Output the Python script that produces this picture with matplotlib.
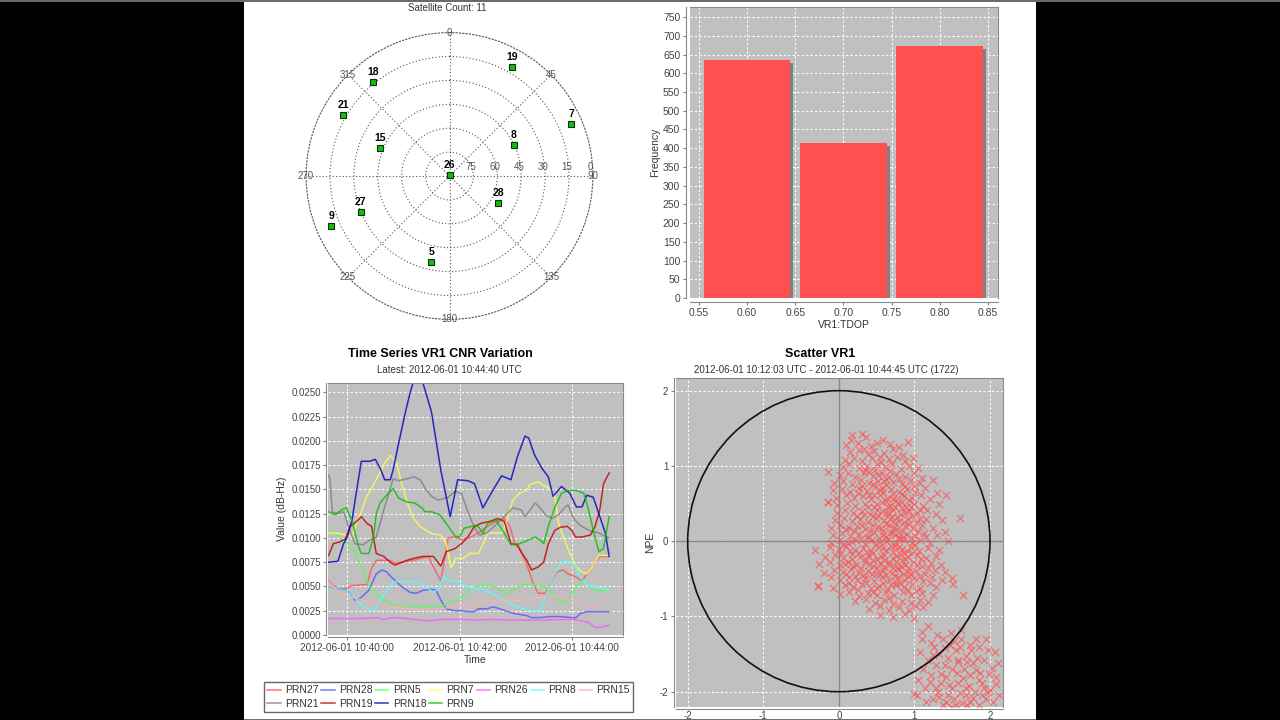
import numpy as np
import matplotlib
matplotlib.use('Agg')
import matplotlib.pyplot as plt
import matplotlib.dates as mdates
from matplotlib.patches import Rectangle, Circle
from matplotlib.lines import Line2D
from datetime import datetime, timedelta

plt.rcParams['font.family'] = ['Liberation Sans', 'DejaVu Sans']
plt.rcParams['axes.unicode_minus'] = False

# ---- sky plot data (azimuth deg, elevation deg) ----
sat_prn = ['19', '18', '21', '7', '8', '15', '26', '28', '27', '9', '5']
sat_azimuth = [30, 321, 300, 67, 64, 292, 0, 119, 248, 247, 192]
sat_elevation = [11, 14, 13, 7, 45, 43, 89.5, 55, 30, 9.5, 35]

# ---- TDOP histogram ----
tdop_bins = [0.60, 0.70, 0.80]
tdop_counts = [635, 414, 673]

# ---- CNR variation time series (seconds after 10:39:40, value) ----
prn27_t = [0, 5, 12, 19, 25, 41, 46, 51, 66, 71, 91, 107, 110, 115, 120, 128, 135, 142, 153, 161, 170, 181, 188, 194, 199, 206,
           214, 219, 224, 232, 237, 244, 251, 256, 264, 271, 278, 285, 290, 300]
prn27_v = [.0056, .0051, .0048, .0048, .0051, .0052, .0069, .0077, .0077, .0074, .0077, .0081, .0074, .0065, .0056, .0100, .0101,
           .0098, .0101, .0106, .0112, .0118, .0120, .0112, .0094, .0087, .0067, .0053, .0043, .0043, .0053, .0065, .0067, .0063,
           .0060, .0056, .0065, .0075, .0081, .0081]
prn28_t = [0, 9, 18, 23, 28, 34, 43, 51, 57, 62, 69, 78, 87, 94, 101, 110, 115, 120, 126, 135, 142, 149, 156, 160, 169, 176,
           183, 192, 199, 212, 217, 228, 235, 246, 260, 265, 269, 276, 300]
prn28_v = [.0050, .0048, .0046, .0043, .0036, .0038, .0046, .0063, .0067, .0065, .0058, .0050, .0044, .0043, .0046, .0047, .0046,
           .0036, .0027, .0025, .0025, .0024, .0024, .0027, .0027, .0029, .0027, .0024, .0022, .0020, .0018, .0018, .0019, .0019,
           .0018, .0018, .0022, .0024, .0024]
prn5_t = [0, 10, 20, 30, 38, 45, 52, 60, 70, 80, 100, 120, 128, 138, 150, 160, 175, 190, 200, 210, 220, 230, 240, 245, 252,
          258, 265, 271, 276, 285, 293, 300]
prn5_v = [.0108, .0102, .0095, .0082, .0062, .0048, .0042, .0035, .0030, .0029, .0029, .0029, .0033, .0036, .0046, .0051, .0051,
          .0043, .0048, .0052, .0052, .0050, .0043, .0036, .0032, .0039, .0050, .0055, .0052, .0046, .0046, .0046]
prn7_t = [0, 9, 19, 25, 30, 41, 51, 60, 66, 73, 78, 85, 91, 98, 107, 112, 120, 126, 131, 136, 144, 151, 160, 165, 170, 186,
          192, 197, 204, 212, 215, 224, 230, 235, 242, 246, 251, 258, 265, 271, 276, 281, 289, 300]
prn7_v = [.0105, .0105, .0103, .0101, .0115, .0143, .0160, .0177, .0185, .0177, .0156, .0134, .0120, .0112, .0106, .0104, .0103,
          .0094, .0069, .0079, .0079, .0084, .0084, .0093, .0105, .0105, .0122, .0139, .0146, .0149, .0155, .0158, .0154, .0152,
          .0143, .0115, .0101, .0084, .0070, .0065, .0063, .0069, .0082, .0082]
prn26_t = [0, 20, 35, 51, 58, 69, 83, 107, 120, 138, 156, 174, 192, 212, 230, 253, 260, 267, 278, 285, 290, 300]
prn26_v = [.0017, .0017, .0017, .0018, .0016, .0018, .0017, .00145, .0016, .0016, .00155, .0016, .00155, .00155, .00155, .0016,
           .0016, .00155, .0013, .0008, .0008, .0010]
prn8_t = [0, 12, 23, 30, 37, 48, 55, 69, 84, 96, 103, 112, 119, 122, 129, 138, 147, 156, 165, 174, 185, 194, 202, 217, 226,
          232, 237, 242, 249, 256, 264, 269, 274, 281, 290, 300]
prn8_v = [.0050, .0048, .0043, .0036, .0029, .0025, .0036, .0055, .0055, .0055, .0050, .0044, .0048, .0060, .0056, .0055, .0050,
          .0048, .0047, .0043, .0038, .0032, .0029, .0025, .0025, .0039, .0053, .0063, .0075, .0077, .0072, .0060, .0053, .0051,
          .0048, .0046]
prn15_t = [0, 10, 20, 40, 60, 80, 100, 120, 140, 160, 180, 200, 220, 240, 260, 280, 290, 300]
prn15_v = [.0055, .0045, .0040, .0035, .0030, .0028, .0026, .0027, .0030, .0033, .0036, .0035, .0038, .0040, .0037, .0030, .0032,
           .0040]
prn21_t = [0, 1.5, 4, 9, 16, 22, 28, 37, 44, 51, 60, 69, 75, 84, 91, 98, 104, 110, 117, 128, 135, 142, 147, 154, 161, 169,
           177, 188, 197, 206, 210, 214, 221, 226, 232, 239, 246, 253, 256, 262, 269, 278, 289, 300]
prn21_v = [.0165, .0160, .0127, .0125, .0127, .0110, .0094, .0093, .0098, .0101, .0132, .0161, .0159, .0161, .0163, .0160, .0150,
           .0143, .0139, .0142, .0148, .0146, .0132, .0115, .0103, .0105, .0112, .0122, .0131, .0129, .0122, .0127, .0136, .0131,
           .0124, .0120, .0124, .0132, .0134, .0120, .0113, .0108, .0105, .0100]
prn19_t = [0, 5, 12, 18, 23, 30, 35, 41, 46, 51, 59, 66, 71, 76, 84, 91, 101, 112, 120, 126, 135, 142, 149, 156, 163, 172,
           181, 188, 195, 202, 206, 212, 217, 224, 230, 235, 242, 248, 255, 260, 264, 271, 280, 285, 290, 294, 300]
prn19_v = [.0082, .0094, .0096, .0099, .0112, .0117, .0122, .0115, .0112, .0084, .0081, .0075, .0072, .0074, .0077, .0079, .0081,
           .0081, .0071, .0086, .0089, .0094, .0101, .0112, .0115, .0117, .0120, .0117, .0094, .0093, .0085, .0077, .0067, .0070,
           .0075, .0094, .0108, .0111, .0112, .0108, .0101, .0101, .0103, .0112, .0129, .0156, .0167]
prn18_t = [0, 10, 16, 20, 25, 30, 35, 44, 50, 56, 60, 66, 69, 75, 82, 87, 91, 100, 103, 110, 120, 130, 138, 149, 156, 165,
           175, 185, 195, 202, 210, 214, 220, 228, 235, 240, 249, 258, 265, 271, 276, 283, 289, 296, 300]
prn18_v = [.0075, .0076, .0094, .0101, .0118, .0149, .0179, .0179, .0181, .0170, .0160, .0160, .0170, .0198, .0229, .0249, .0262,
           .0262, .0253, .0230, .0170, .0122, .0160, .0159, .0156, .0131, .0148, .0164, .0160, .0184, .0205, .0203, .0186, .0172,
           .0163, .0143, .0153, .0146, .0132, .0132, .0144, .0142, .0125, .0105, .0081]
prn9_t = [0, 7, 14, 19, 25, 32, 35, 43, 48, 51, 55, 62, 69, 75, 84, 92, 100, 103, 110, 119, 128, 135, 140, 145, 153, 160,
          165, 170, 179, 186, 195, 204, 214, 221, 226, 230, 235, 242, 249, 256, 265, 273, 278, 283, 289, 294, 300]
prn9_v = [.0127, .0124, .0129, .0131, .0118, .0091, .0084, .0084, .0101, .0125, .0136, .0144, .0151, .0141, .0137, .0136, .0131,
          .0127, .0127, .0124, .0112, .0102, .0101, .0110, .0112, .0112, .0105, .0115, .0118, .0108, .0093, .0094, .0098, .0101,
          .0098, .0094, .0112, .0132, .0146, .0149, .0149, .0146, .0129, .0108, .0086, .0089, .0122]

series_names = ['PRN27', 'PRN28', 'PRN5', 'PRN7', 'PRN26', 'PRN8', 'PRN15', 'PRN21', 'PRN19', 'PRN18', 'PRN9']
series_t = [prn27_t, prn28_t, prn5_t, prn7_t, prn26_t, prn8_t, prn15_t, prn21_t, prn19_t, prn18_t, prn9_t]
series_v = [prn27_v, prn28_v, prn5_v, prn7_v, prn26_v, prn8_v, prn15_v, prn21_v, prn19_v, prn18_v, prn9_v]
series_colors = ['#ff5555', '#5555ff', '#55ff55', '#ffff55', '#ff55ff', '#55ffff', '#ffafaf',
                 '#808080', '#c00000', '#0000c0', '#00c000']

# ---- position scatter (EPE, NPE) ----
vr1_points = [
    (0.18, 1.41), (0.30, 1.43), (0.36, 1.38), (0.92, 1.32), (0.58, 1.34), (0.16, 1.34),
    (0.10, 1.28), (0.25, 1.30), (0.42, 1.27), (0.50, 1.31), (0.68, 1.29), (0.80, 1.25), (0.33, 1.22),
    (0.15, 1.18), (0.27, 1.21), (0.38, 1.16), (0.47, 1.20), (0.60, 1.17), (0.72, 1.22), (0.85, 1.15), (0.55, 1.12),
    (0.08, 1.08), (0.20, 1.10), (0.31, 1.06), (0.44, 1.11), (0.56, 1.05), (0.66, 1.09), (0.77, 1.12), (0.88, 1.06),
    (0.98, 1.10), (0.50, 1.02),
    (0.05, 0.98), (0.14, 1.02), (0.26, 0.97), (0.37, 1.00), (0.48, 0.95), (0.61, 0.99), (0.70, 1.03), (0.82, 0.96),
    (0.93, 1.00), (1.05, 0.97), (0.40, 0.92),
    (-0.15, 0.92), (0.02, 0.88), (0.12, 0.91), (0.22, 0.86), (0.33, 0.90), (0.45, 0.87), (0.57, 0.91), (0.66, 0.85),
    (0.75, 0.89), (0.87, 0.86), (0.99, 0.90), (1.10, 0.84),
    (-0.06, 0.78), (0.06, 0.80), (0.18, 0.76), (0.29, 0.81), (0.40, 0.77), (0.52, 0.80), (0.63, 0.75), (0.72, 0.79),
    (0.84, 0.76), (0.95, 0.81), (1.08, 0.77), (1.24, 0.81),
    (-0.08, 0.68), (0.04, 0.70), (0.15, 0.66), (0.26, 0.71), (0.37, 0.67), (0.48, 0.72), (0.58, 0.66), (0.69, 0.70),
    (0.79, 0.65), (0.90, 0.69), (1.01, 0.66), (1.14, 0.71), (1.30, 0.64),
    (-0.04, 0.58), (0.09, 0.61), (0.20, 0.57), (0.32, 0.60), (0.43, 0.56), (0.54, 0.61), (0.64, 0.58), (0.75, 0.55),
    (0.86, 0.60), (0.97, 0.57), (1.09, 0.61), (1.20, 0.56), (1.42, 0.61),
    (-0.15, 0.52), (-0.02, 0.48), (0.11, 0.51), (0.22, 0.47), (0.34, 0.50), (0.46, 0.46), (0.57, 0.52), (0.68, 0.47),
    (0.78, 0.51), (0.89, 0.46), (1.00, 0.50), (1.12, 0.47), (1.33, 0.50),
    (-0.03, 0.38), (0.08, 0.41), (0.19, 0.37), (0.30, 0.40), (0.41, 0.36), (0.51, 0.42), (0.62, 0.38), (0.72, 0.41),
    (0.82, 0.36), (0.93, 0.40), (1.04, 0.37), (1.17, 0.41), (1.28, 0.36),
    (-0.05, 0.28), (0.07, 0.31), (0.17, 0.27), (0.28, 0.30), (0.39, 0.26), (0.49, 0.31), (0.60, 0.28), (0.70, 0.32),
    (0.80, 0.27), (0.91, 0.30), (1.02, 0.26), (1.15, 0.30), (1.37, 0.28), (1.60, 0.31),
    (-0.10, 0.18), (0.02, 0.21), (0.13, 0.17), (0.24, 0.20), (0.35, 0.16), (0.45, 0.22), (0.56, 0.18), (0.66, 0.21),
    (0.77, 0.16), (0.87, 0.20), (0.98, 0.17), (1.10, 0.21), (1.25, 0.18),
    (-0.08, 0.08), (0.04, 0.11), (0.15, 0.07), (0.26, 0.10), (0.37, 0.06), (0.47, 0.12), (0.58, 0.08), (0.68, 0.11),
    (0.79, 0.06), (0.90, 0.10), (1.01, 0.07), (1.13, 0.11), (1.30, 0.08), (1.40, 0.12),
    (-0.10, -0.02), (0.01, 0.01), (0.12, -0.03), (0.23, 0.02), (0.34, -0.04), (0.44, 0.02), (0.55, -0.01), (0.65, 0.03),
    (0.76, -0.03), (0.86, 0.01), (0.97, -0.02), (1.08, 0.02), (1.20, -0.03), (1.45, 0.00),
    (-0.31, -0.12), (-0.12, -0.08), (0.00, -0.11), (0.10, -0.07), (0.21, -0.12), (0.32, -0.09), (0.42, -0.13),
    (0.53, -0.08), (0.63, -0.12), (0.74, -0.07), (0.84, -0.11), (0.95, -0.08), (1.06, -0.13), (1.18, -0.09), (1.33, -0.12),
    (-0.18, -0.21), (-0.05, -0.18), (0.06, -0.22), (0.17, -0.17), (0.28, -0.21), (0.39, -0.19), (0.50, -0.23),
    (0.60, -0.18), (0.71, -0.22), (0.81, -0.17), (0.92, -0.21), (1.03, -0.18), (1.15, -0.22), (1.28, -0.19),
    (-0.26, -0.30), (-0.12, -0.28), (0.01, -0.32), (0.12, -0.27), (0.23, -0.31), (0.34, -0.28), (0.45, -0.33),
    (0.55, -0.29), (0.66, -0.32), (0.76, -0.27), (0.87, -0.31), (0.98, -0.28), (1.10, -0.33), (1.22, -0.29), (1.35, -0.31),
    (-0.20, -0.42), (-0.06, -0.38), (0.05, -0.41), (0.16, -0.37), (0.27, -0.42), (0.38, -0.39), (0.49, -0.43),
    (0.59, -0.38), (0.70, -0.42), (0.80, -0.37), (0.91, -0.41), (1.02, -0.39), (1.14, -0.43), (1.27, -0.38), (1.40, -0.41),
    (-0.10, -0.48), (0.02, -0.52), (0.13, -0.47), (0.24, -0.51), (0.35, -0.49), (0.46, -0.53), (0.57, -0.48),
    (0.67, -0.52), (0.78, -0.47), (0.88, -0.51), (0.99, -0.49), (1.11, -0.53), (1.23, -0.48), (1.36, -0.52), (1.50, -0.49),
    (-0.28, -0.59), (-0.08, -0.62), (0.08, -0.58), (0.19, -0.61), (0.30, -0.57), (0.42, -0.62), (0.53, -0.59),
    (0.64, -0.63), (0.75, -0.58), (0.86, -0.61), (0.97, -0.57), (1.08, -0.62), (1.29, -0.61), (1.51, -0.57),
    (0.02, -0.70), (0.14, -0.68), (0.27, -0.73), (0.38, -0.69), (0.50, -0.72), (0.62, -0.67), (0.73, -0.71),
    (0.85, -0.68), (0.96, -0.72), (1.10, -0.69), (1.25, -0.71), (1.64, -0.72),
    (0.22, -0.80), (0.36, -0.77), (0.48, -0.82), (0.60, -0.78), (0.71, -0.83), (0.83, -0.79), (0.95, -0.82),
    (1.07, -0.78), (1.18, -0.81),
    (0.40, -0.90), (0.54, -0.86), (0.67, -0.92), (0.80, -0.88), (0.93, -0.91), (1.02, -0.86), (1.11, -0.87),
    (0.55, -0.98), (0.72, -1.01), (0.88, -0.97), (1.00, -1.02),
    (0.52, 0.33), (0.65, 0.45), (0.74, 0.24), (0.58, 0.14), (0.83, 0.52), (0.69, -0.06), (0.61, -0.25), (0.77, -0.35),
    (0.55, -0.43), (0.86, -0.15), (0.47, 0.62), (0.63, 0.83), (0.72, 0.56), (0.80, 0.04), (0.92, -0.46), (0.45, -0.16),
    (0.68, 0.30), (0.57, 0.71), (0.88, 0.38), (0.40, 0.05), (0.75, -0.55), (0.62, 0.00), (0.51, -0.62), (0.83, -0.25),
    (0.70, 0.12), (-0.15, 0.52), (-0.27, -0.60),
    (0.35, 0.95), (0.52, 0.88), (0.68, 0.93), (0.79, 0.83), (0.60, 0.80), (0.45, 0.76), (0.30, 0.73), (0.88, 0.73),
    (0.99, 0.74), (0.55, 0.68), (0.71, 0.63), (0.83, 0.63), (0.40, 0.62), (0.25, 0.64), (0.93, 0.55), (0.62, 0.53),
    (0.50, 0.50), (0.38, 0.45), (0.74, 0.46), (0.84, 0.44), (0.96, 0.45), (1.07, 0.42), (0.57, 0.40), (0.67, 0.37),
    (0.77, 0.32), (0.45, 0.33), (0.33, 0.35), (0.24, 0.33), (0.86, 0.26), (0.97, 0.33), (1.08, 0.30), (0.62, 0.23),
    (0.52, 0.19), (0.73, 0.18), (0.83, 0.14), (0.93, 0.23), (1.05, 0.14), (0.41, 0.14), (0.31, 0.21), (0.20, 0.13),
    (0.09, 0.16), (0.63, 0.06), (0.74, 0.08), (0.53, 0.04), (0.85, 0.06), (0.95, 0.04), (0.29, 0.03), (0.18, -0.01),
    (0.06, -0.05), (1.15, 0.05), (0.48, -0.05), (0.58, -0.09), (0.71, -0.14), (0.79, -0.08), (0.90, -0.13), (1.01, -0.05),
    (0.37, -0.14), (0.26, -0.16), (0.15, -0.13), (0.03, -0.16), (0.56, -0.19), (0.66, -0.27), (0.76, -0.20), (0.88, -0.24),
    (0.97, -0.16), (1.09, -0.24), (0.45, -0.25), (0.35, -0.23), (0.18, -0.24), (0.08, -0.30), (0.60, -0.34), (0.71, -0.36),
    (0.82, -0.33), (0.93, -0.35), (1.04, -0.31), (0.50, -0.36), (0.40, -0.32), (0.29, -0.35), (0.19, -0.33), (1.18, -0.35),
    (0.63, -0.45), (0.74, -0.46), (0.85, -0.43), (0.96, -0.44), (0.44, -0.44), (0.33, -0.45), (0.22, -0.46), (1.07, -0.46),
    (0.10, -0.44), (1.20, -0.55), (0.69, -0.58), (0.81, -0.55), (0.58, -0.56), (0.91, -0.65), (0.36, -0.55), (0.25, -0.65),
    (0.45, -0.68), (0.67, -0.76), (1.02, -0.66), (0.14, -0.55),
    (1.18, -1.13), (1.48, -1.22), (1.62, -1.18), (1.73, -1.38), (1.86, -1.40), (2.06, -1.47), (1.07, -1.47),
    (1.24, -1.51), (1.40, -1.42), (1.57, -1.60), (1.81, -1.71), (1.99, -1.76), (1.64, -1.82), (1.46, -1.91),
    (1.31, -2.00), (1.15, -2.13), (1.73, -2.13), (1.90, -2.04), (2.04, -2.13), (1.42, -2.13), (1.35, -1.76),
    (1.20, -1.87), (1.04, -2.04), (0.99, -2.03), (1.53, -1.33), (1.10, -1.20), (1.30, -1.25), (1.55, -1.45),
    (1.68, -1.52), (1.92, -1.58), (2.10, -1.62), (1.28, -1.65), (1.50, -1.70), (1.72, -1.92), (1.85, -1.85),
    (2.08, -1.90), (1.60, -2.02), (1.38, -2.18), (1.55, -2.18), (1.85, -2.18), (1.98, -2.00), (1.26, -1.40),
    (1.45, -1.55), (1.12, -1.70), (1.62, -1.30), (1.78, -1.62), (1.95, -1.30), (1.68, -2.05), (1.50, -1.95),
    (1.25, -2.10), (2.12, -2.05), (1.75, -1.45), (1.35, -1.88), (1.58, -1.88), (1.80, -2.00), (1.05, -1.85),
    (1.65, -1.70), (1.92, -1.95), (1.45, -2.05), (1.28, -1.95), (1.70, -2.18),
    (1.10, -1.30), (1.22, -1.35), (1.38, -1.30), (1.47, -1.38), (1.60, -1.40), (1.70, -1.60), (1.83, -1.55),
    (1.97, -1.45), (2.02, -1.68), (1.87, -1.75), (1.73, -1.78), (1.56, -1.75), (1.40, -1.65), (1.22, -1.78),
    (1.14, -1.95), (1.33, -2.07), (1.52, -2.10), (1.63, -2.15), (1.78, -2.08), (1.95, -2.10), (2.08, -1.80),
    (1.68, -1.95), (1.42, -1.80), (1.18, -1.58), (1.58, -1.58), (1.90, -1.88), (2.00, -1.98), (1.48, -2.20),
    (1.82, -1.30), (1.33, -1.50),
]

W, H = 1280, 720
GRAY_BG = '#c0c0c0'
TICK_C = '#444444'


def fx(px):
    return px / W


def fy(py):
    return (H - py) / H


fig = plt.figure(figsize=(12.8, 7.2), dpi=100, facecolor='black')
fig.patches.append(Rectangle((fx(244), 0), fx(1036 - 244), 1, transform=fig.transFigure,
                             facecolor='white', edgecolor='none', zorder=-10))
fig.patches.append(Rectangle((0, fy(2)), 1, 2 / H, transform=fig.transFigure,
                             facecolor='#6a6a6a', edgecolor='none', zorder=-9))
fig.patches.append(Rectangle((fx(244), 0), fx(1036 - 244), 1.5 / H, transform=fig.transFigure,
                             facecolor='#707070', edgecolor='none', zorder=-9))

# ================= sky plot =================
R_PX = 143.4
cx, cy = 449.5, 176
axp = fig.add_axes([fx(cx - R_PX), fy(cy + R_PX), 2 * R_PX / W, 2 * R_PX / H], projection='polar')
axp.set_theta_zero_location('N')
axp.set_theta_direction(-1)
axp.set_ylim(0, 90)
axp.set_yticks([15, 30, 45, 60, 75])
axp.set_xticks(np.deg2rad(np.arange(0, 360, 45)))
axp.set_xticklabels([])
axp.set_yticklabels([])
dots = (0, (1, 2))
axp.grid(True, color='#555555', linestyle=dots, linewidth=0.8)
axp.spines['polar'].set_linestyle(dots)
axp.spines['polar'].set_color('#555555')
axp.spines['polar'].set_linewidth(0.8)
axp.set_facecolor('white')
for ang in range(0, 360, 45):
    axp.text(np.deg2rad(ang), 90, str(ang), ha='center', va='center', fontsize=7, color='#555555',
             clip_on=False, zorder=5)
for elev in [0, 15, 30, 45, 60, 75, 90]:
    axp.annotate(str(elev), xy=(np.pi / 2, 88.5 - elev), xytext=(0, 9), textcoords='offset pixels',
                 ha='center', va='center', fontsize=7, color='#555555', annotation_clip=False)
theta = np.deg2rad(sat_azimuth)
rad = 90 - np.array(sat_elevation)
axp.plot(theta, rad, linestyle='none', marker='s', markersize=5, markerfacecolor='#10c010',
         markeredgecolor='#083008', markeredgewidth=0.8, zorder=6, clip_on=False)
for th, r, name in zip(theta, rad, sat_prn):
    axp.annotate(name, xy=(th, r), xytext=(0, 10), textcoords='offset pixels', ha='center', va='center',
                 fontsize=7.5, fontweight='bold', color='black', zorder=7, annotation_clip=False)
fig.text(fx(447), fy(8), 'Satellite Count: 11', ha='center', va='center', fontsize=7, color='#333333')

# ================= TDOP histogram =================
axh = fig.add_axes([fx(690), fy(298), fx(308), 291 / H])
axh.set_facecolor(GRAY_BG)
axh.bar(np.array(tdop_bins) + 0.003, np.array(tdop_counts) - 8, width=0.09, color='#808080', zorder=2)
axh.bar(tdop_bins, tdop_counts, width=0.09, color='#ff5050', zorder=3)
axh.set_xlim(0.5407, 0.8604)
axh.set_ylim(0, 777)
axh.set_xticks(np.arange(0.55, 0.851, 0.05))
axh.set_xticklabels(['%.2f' % v for v in np.arange(0.55, 0.851, 0.05)])
axh.set_yticks(np.arange(0, 751, 50))
axh.grid(True, color='white', linestyle=(0, (2, 2)), linewidth=0.8)
axh.set_axisbelow(True)
axh.set_xlabel('VR1:TDOP', fontsize=7.5, color='#333333', labelpad=2)
axh.set_ylabel('Frequency', fontsize=7.5, color='#333333', labelpad=2)

# ================= time series =================
t0 = datetime(2012, 6, 1, 10, 39, 40)
axt = fig.add_axes([fx(328.3), fy(635), fx(294.4), 252.3 / H])
axt.set_facecolor(GRAY_BG)
for name, ts, vs, col in zip(series_names, series_t, series_v, series_colors):
    times = [t0 + timedelta(seconds=s) for s in ts]
    axt.plot(times, vs, color=col, linewidth=1.1, alpha=0.8)
axt.set_xlim(t0 - timedelta(seconds=0.3), t0 + timedelta(seconds=314.5))
axt.set_ylim(0, 0.0260)
axt.set_yticks(np.arange(0, 0.02501, 0.0025))
axt.yaxis.set_major_formatter(matplotlib.ticker.FormatStrFormatter('%.4f'))
axt.set_xticks([datetime(2012, 6, 1, 10, 40), datetime(2012, 6, 1, 10, 42), datetime(2012, 6, 1, 10, 44)])
axt.xaxis.set_major_formatter(mdates.DateFormatter('%Y-%m-%d %H:%M:%S'))
axt.grid(True, color='white', linestyle=(0, (2, 2)), linewidth=0.8)
axt.set_axisbelow(True)
axt.set_xlabel('Time', fontsize=7.5, color='#333333', labelpad=2)
axt.set_ylabel('Value (dB-Hz)', fontsize=7.5, color='#333333', labelpad=3)
fig.text(fx(440), fy(354), 'Time Series VR1 CNR Variation', ha='center', va='center', fontsize=9,
         fontweight='bold', color='black')
fig.text(fx(449), fy(370), 'Latest: 2012-06-01 10:44:40 UTC', ha='center', va='center', fontsize=7,
         color='#333333')

legend_order = ['PRN27', 'PRN21', 'PRN28', 'PRN19', 'PRN5', 'PRN18', 'PRN7', 'PRN9', 'PRN26', 'PRN8', 'PRN15']
leg_handles = [Line2D([], [], color=series_colors[series_names.index(n)], linewidth=1.1, alpha=0.8)
               for n in legend_order]
leg = fig.legend(leg_handles, legend_order, ncol=7, loc='lower left',
                 bbox_to_anchor=(fx(264), fy(712), fx(369), 36 / H), mode='expand', borderaxespad=0,
                 fontsize=7.5, handlelength=1.3, handletextpad=0.4, columnspacing=0.6,
                 labelspacing=0.35, fancybox=False, framealpha=1, borderpad=0.3)
leg.get_frame().set_edgecolor('#666666')
leg.get_frame().set_linewidth(1.0)
for txt in leg.get_texts():
    txt.set_color('#333333')

# ================= scatter =================
axs = fig.add_axes([fx(676), fy(707.3), fx(326.7), 329 / H])
axs.set_facecolor(GRAY_BG)
pe = np.array(vr1_points)
axs.scatter(pe[:, 0], pe[:, 1], marker='x', s=26, linewidths=0.9, color='#ff5050', alpha=0.7, zorder=3)
axs.add_patch(Circle((0, 0), 2, fill=False, edgecolor='#111111', linewidth=1.2, zorder=4))
axs.axhline(0, color='#888888', linewidth=1.0, zorder=2)
axs.axvline(0, color='#888888', linewidth=1.0, zorder=2)
axs.set_xlim(-2.155, 2.168)
axs.set_ylim(-2.207, 2.165)
axs.set_xticks([-2, -1, 0, 1, 2])
axs.set_yticks([-2, -1, 0, 1, 2])
axs.grid(True, color='white', linestyle=(0, (2, 2)), linewidth=0.8)
axs.set_axisbelow(True)
axs.set_ylabel('NPE', fontsize=7.5, color='#333333', labelpad=3)
fig.text(fx(820), fy(354), 'Scatter VR1', ha='center', va='center', fontsize=9, fontweight='bold',
         color='black')
fig.text(fx(826), fy(370), '2012-06-01 10:12:03 UTC - 2012-06-01 10:44:45 UTC (1722)', ha='center',
         va='center', fontsize=7, color='#333333')

for ax in (axh, axt, axs):
    ax.tick_params(length=2, width=0.8, color='#808080', labelsize=7, labelcolor=TICK_C, pad=2)
    for side in ('top', 'right', 'left', 'bottom'):
        ax.spines[side].set_color('#8a8a8a')
        ax.spines[side].set_linewidth(0.8)
axh.tick_params(labelsize=7.5)
axt.tick_params(axis='x', labelsize=7.3)
axh.spines['left'].set_position(('outward', 3))
axh.spines['bottom'].set_position(('outward', 3))
for ax in (axt, axs):
    ax.spines['left'].set_position(('outward', 1.5))
    ax.spines['bottom'].set_position(('outward', 1.5))
axs.tick_params(axis='x', length=1, pad=0.5)

fig.savefig('out.png', dpi=100, facecolor=fig.get_facecolor())
